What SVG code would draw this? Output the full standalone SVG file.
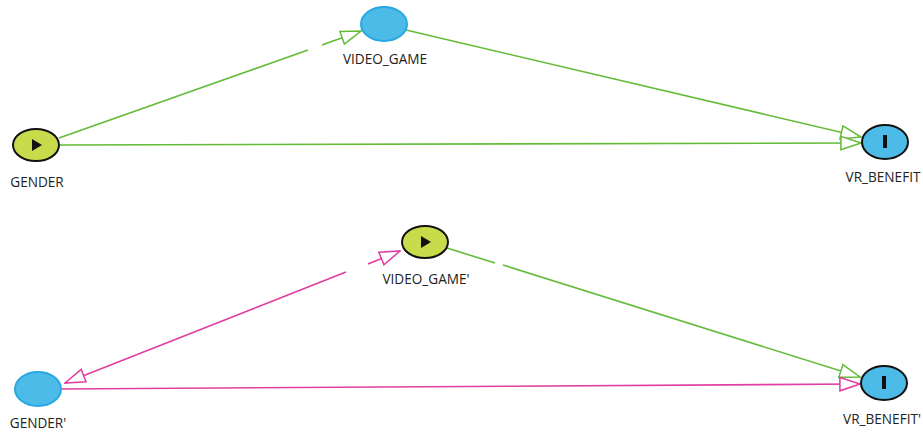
<svg xmlns="http://www.w3.org/2000/svg" width="923" height="432" viewBox="0 0 923 432">
  <style>
    .lbl { font-family: "Open Sans", "DejaVu Sans", sans-serif; font-size: 13.6px; fill: #222; text-anchor: middle; }
    .exp { fill: #c8dc4b; stroke: #111; stroke-width: 2; }
    .out { fill: #4dbbe8; stroke: #111; stroke-width: 2; }
    .lat { fill: #4dbbe8; stroke: #27a7e2; stroke-width: 2; }
    .causal { stroke: #63bb38; stroke-width: 1.6; fill: none; }
    .biased { stroke: #e03ea2; stroke-width: 1.6; fill: none; }
  </style>
  <defs>
    <marker id="arrowG" markerUnits="userSpaceOnUse" markerWidth="22" markerHeight="16" refX="21" refY="7" orient="auto-start-reverse" viewBox="-1 -1 23 16">
      <path d="M0,0 L21,7 L0,14 Z" fill="#fff" stroke="#63bb38" stroke-width="1.6"/>
    </marker>
    <marker id="arrowM" markerUnits="userSpaceOnUse" markerWidth="22" markerHeight="16" refX="21" refY="7" orient="auto-start-reverse" viewBox="-1 -1 23 16">
      <path d="M0,0 L21,7 L0,14 Z" fill="#fff" stroke="#e03ea2" stroke-width="1.6"/>
    </marker>
  </defs>

  <g id="connectors">
    <!-- GENDER -> VIDEO_GAME -->
    <line class="causal" x1="59" y1="138" x2="308" y2="50"/>
    <line class="causal" x1="322" y1="45" x2="361" y2="31" marker-end="url(#arrowG)"/>
    <!-- VIDEO_GAME -> VR_BENEFIT -->
    <line class="causal" x1="406" y1="30" x2="861" y2="137" marker-end="url(#arrowG)"/>
    <!-- GENDER -> VR_BENEFIT -->
    <line class="causal" x1="60" y1="145" x2="861" y2="143" marker-end="url(#arrowG)"/>
    <!-- GENDER' <-> VIDEO_GAME' -->
    <line class="biased" x1="65" y1="383" x2="346" y2="272" marker-start="url(#arrowM)"/>
    <line class="biased" x1="368" y1="264" x2="400" y2="251" marker-end="url(#arrowM)"/>
    <!-- VIDEO_GAME' -> VR_BENEFIT' -->
    <line class="causal" x1="447" y1="248" x2="495" y2="263"/>
    <line class="causal" x1="503" y1="265" x2="860" y2="377" marker-end="url(#arrowG)"/>
    <!-- GENDER' -> VR_BENEFIT' -->
    <line class="biased" x1="62" y1="389" x2="860" y2="384" marker-end="url(#arrowM)"/>
  </g>

  <g id="GENDER">
    <ellipse class="exp" cx="36" cy="145" rx="23" ry="16"/>
    <path d="M32,139 L42,145 L32,151 Z" fill="#111"/>
    <text class="lbl" x="37" y="187">GENDER</text>
  </g>
  <g id="VIDEO_GAME">
    <ellipse class="lat" cx="384" cy="24" rx="23" ry="17"/>
    <text class="lbl" x="385" y="64">VIDEO_GAME</text>
  </g>
  <g id="VR_BENEFIT">
    <ellipse class="out" cx="885" cy="142" rx="23" ry="17"/>
    <rect x="883" y="135" width="4" height="13" fill="#111"/>
    <text class="lbl" x="883" y="182">VR_BENEFIT</text>
  </g>
  <g id="GENDER_prime">
    <ellipse class="lat" cx="38" cy="389" rx="23" ry="17"/>
    <text class="lbl" x="38" y="428">GENDER'</text>
  </g>
  <g id="VIDEO_GAME_prime">
    <ellipse class="exp" cx="425" cy="242" rx="23" ry="16"/>
    <path d="M421,236 L431,242 L421,248 Z" fill="#111"/>
    <text class="lbl" x="426" y="284">VIDEO_GAME'</text>
  </g>
  <g id="VR_BENEFIT_prime">
    <ellipse class="out" cx="884" cy="383" rx="23" ry="17"/>
    <rect x="882" y="376" width="4" height="13" fill="#111"/>
    <text class="lbl" x="882" y="424">VR_BENEFIT'</text>
  </g>
</svg>
